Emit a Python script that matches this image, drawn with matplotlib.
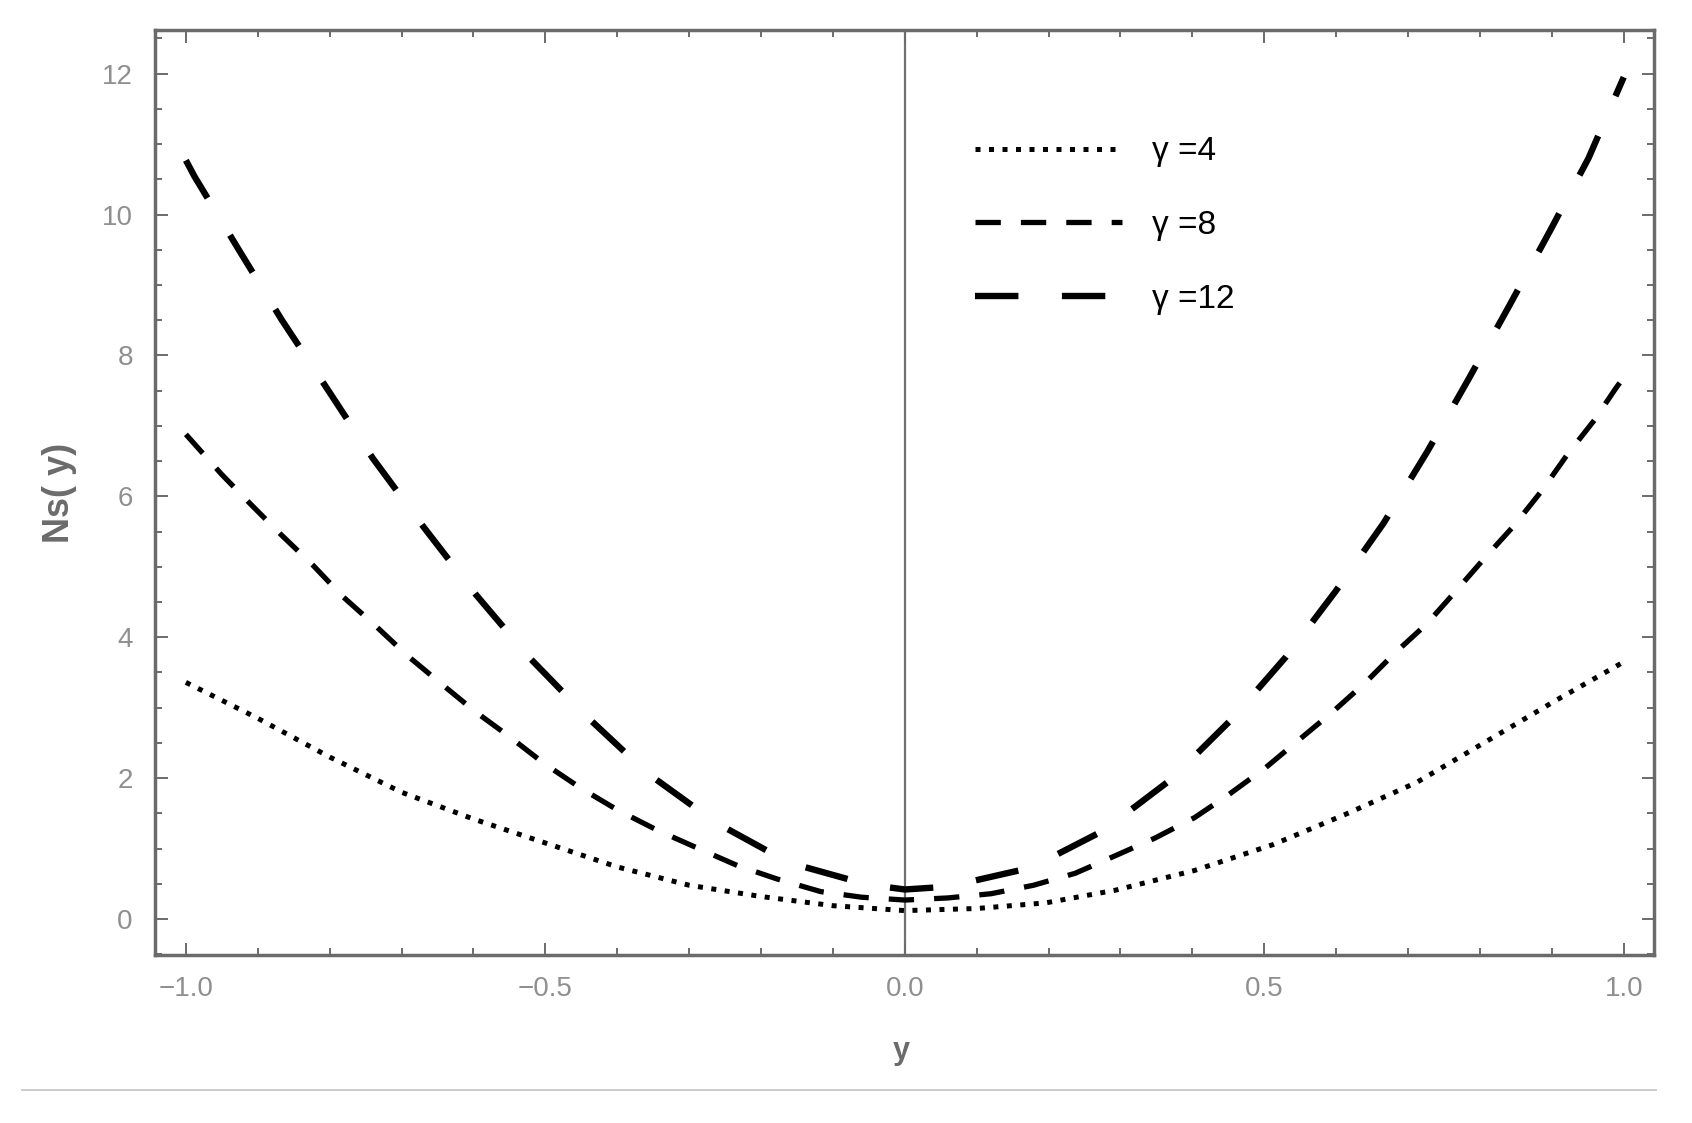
import matplotlib
matplotlib.use("Agg")
import matplotlib.pyplot as plt
from matplotlib.ticker import MultipleLocator

# values
x_g4 = [-1.0, -0.9, -0.8, -0.7, -0.6, -0.5, -0.4, -0.3, -0.2, -0.1, 0.0,
        0.1, 0.196, 0.293, 0.403, 0.513, 0.616, 0.712, 0.802, 0.905, 1.0]
ns_g4 = [3.36, 2.85, 2.30, 1.80, 1.42, 1.08, 0.74, 0.48, 0.32, 0.19, 0.12,
         0.15, 0.23, 0.41, 0.69, 1.06, 1.50, 1.94, 2.48, 3.10, 3.65]

x_g8 = [-1.0, -0.951, -0.910, -0.869, -0.823, -0.782, -0.737, -0.692, -0.646,
        -0.597, -0.550, -0.502, -0.451, -0.400, -0.344, -0.289, -0.233, -0.178,
        -0.117, -0.060, 0.0, 0.060, 0.120, 0.179, 0.237, 0.293, 0.348, 0.403,
        0.451, 0.502, 0.549, 0.595, 0.640, 0.681, 0.726, 0.766, 0.807, 0.847,
        0.886, 0.922, 0.959, 0.988, 1.0]
ns_g8 = [6.88, 6.32, 5.89, 5.47, 5.02, 4.58, 4.17, 3.74, 3.35,
         2.94, 2.59, 2.21, 1.86, 1.55, 1.26, 1.01, 0.76, 0.57,
         0.39, 0.31, 0.27, 0.30, 0.36, 0.48, 0.65, 0.90, 1.15, 1.44,
         1.77, 2.15, 2.55, 2.94, 3.35, 3.77, 4.19, 4.65, 5.13, 5.58,
         6.08, 6.60, 7.08, 7.52, 7.69]

x_g12 = [-1.0, -0.988, -0.927, -0.867, -0.803, -0.740, -0.669, -0.597, -0.523,
         -0.444, -0.358, -0.263, -0.161, -0.052, 0.0, 0.060, 0.176, 0.277, 0.370,
         0.454, 0.530, 0.599, 0.666, 0.727, 0.785, 0.841, 0.897, 0.951, 0.994, 1.0]
ns_g12 = [10.77, 10.54, 9.51, 8.51, 7.52, 6.54, 5.56, 4.61, 3.72,
          2.89, 2.07, 1.37, 0.80, 0.49, 0.42, 0.46, 0.73, 1.26, 1.98,
          2.83, 3.72, 4.65, 5.62, 6.64, 7.68, 8.71, 9.76, 10.80, 11.81, 11.95]

labels = ["γ =4", "γ =8", "γ =12"]
x_ticks = [-1.0, -0.5, 0.0, 0.5, 1.0]
y_ticks = [0, 2, 4, 6, 8, 10, 12]

frame_col = "#6b6b6b"
sans = ["Liberation Sans", "DejaVu Sans"]

fig = plt.figure(figsize=(16.92, 11.23), dpi=100)
ax = fig.add_axes([0.0916, 0.1496, 0.9775 - 0.0916, 0.9733 - 0.1496])

ax.plot(x_g4, ns_g4, color="black", lw=3.6, dashes=(1.0, 1.7),
        dash_capstyle="butt", label=labels[0])
ax.plot(x_g8, ns_g8, color="black", lw=3.8, dashes=(4.8, 3.8),
        dash_capstyle="butt", label=labels[1])
ax.plot(x_g12, ns_g12, color="black", lw=4.6, dashes=(6.8, 6.8),
        dash_capstyle="butt", label=labels[2])

ax.axvline(0.0, color="#707070", lw=1.6, zorder=0)

ax.set_xlim(-1.043, 1.042)
ax.set_ylim(-0.51, 12.62)
ax.set_xticks(x_ticks)
ax.set_yticks(y_ticks)
ax.set_xticklabels(["\u22121.0", "\u22120.5", "0.0", "0.5", "1.0"])
ax.xaxis.set_minor_locator(MultipleLocator(0.1))
ax.yaxis.set_minor_locator(MultipleLocator(0.5))

for s in ax.spines.values():
    s.set_color(frame_col)
    s.set_linewidth(2.5)

ax.tick_params(which="both", direction="in", top=True, right=True,
               color=frame_col, width=1.4)
ax.tick_params(which="major", length=9)
ax.tick_params(which="minor", length=5)
ax.tick_params(axis="y", which="major", pad=16, labelsize=20,
               labelcolor="#8f8f8f")
ax.tick_params(axis="x", which="major", pad=15, labelsize=20,
               labelcolor="#8f8f8f")
for t in ax.get_xticklabels() + ax.get_yticklabels():
    t.set_family(sans)

ax.set_xlabel("y", fontsize=22, fontweight="bold", color="#6b6b6b", family=sans)
ax.xaxis.set_label_coords(0.4977, -0.088)
ax.set_ylabel("Ns( y)", fontsize=26, fontweight="bold", color="#6b6b6b",
              family=sans)
ax.yaxis.set_label_coords(-0.052, 0.5)

leg = ax.legend(loc="upper left", bbox_to_anchor=(0.547, 0.885),
                frameon=False, handlelength=4.4,
                handletextpad=0.9, labelspacing=1.28, borderpad=0,
                borderaxespad=0, prop={"family": sans, "size": 24})

# thin grey rule under the plot
fig.add_artist(plt.Line2D([22 / 1692, 1656 / 1692], [1 - 1090 / 1123] * 2,
                          transform=fig.transFigure, color="#cccccc", lw=1.4))

fig.savefig("out.png", dpi=100)
